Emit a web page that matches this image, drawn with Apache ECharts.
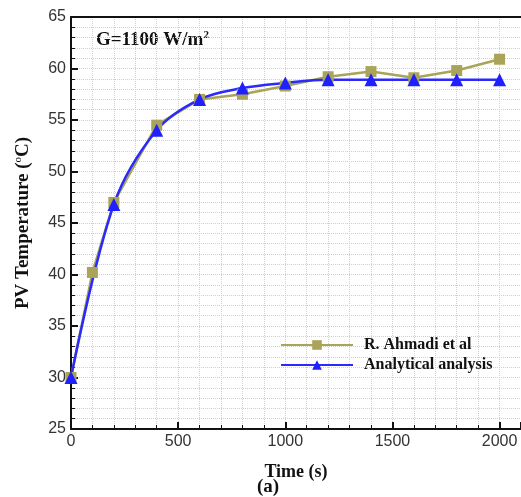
<!DOCTYPE html>
<html><head><meta charset="utf-8">
<script src="https://cdn.jsdelivr.net/npm/echarts@6/dist/echarts.min.js"></script>
<style>html,body{margin:0;padding:0;background:#fff}#c{width:521px;height:497px}</style>
</head><body><div id="c"></div>
<script>
var ahmadiTime = [0, 100, 200, 400, 600, 800, 1000, 1200, 1400, 1600, 1800, 2000];
var ahmadiTemp = [30.0, 40.2, 47.0, 54.5, 57.0, 57.5, 58.3, 59.2, 59.7, 59.1, 59.8, 60.9];
var analyticTime = [0, 200, 400, 600, 800, 1000, 1200, 1400, 1600, 1800, 2000];
var analyticTemp = [30.0, 46.8, 54.0, 57.0, 58.1, 58.6, 58.9, 58.9, 58.9, 58.9, 58.9];
var xTicks = [0, 500, 1000, 1500, 2000];
var yTicks = [25, 30, 35, 40, 45, 50, 55, 60, 65];

function pairs(xs, ys){ return xs.map(function(x,i){ return [x, ys[i]]; }); }

var chart = echarts.init(document.getElementById('c'), null, {renderer:'canvas'});
var serif = '"Liberation Serif","Times New Roman",serif';
var sans = '"Liberation Sans",Arial,sans-serif';
var gridStyle = {color: '#cfcfcf', width: 1, type: 'dotted'};
chart.setOption({
  animation: false,
  backgroundColor: '#fff',
  grid: {left: 71, top: 17, width: 451.5, height: 412, containLabel: false},
  legend: {
    orient: 'vertical', left: 275, top: 332, itemWidth: 72, itemHeight: 12, itemGap: 4,
    textStyle: {fontFamily: serif, fontWeight: 'bold', fontSize: 16, color: '#111', padding: [0,0,0,6]},
    data: ['R. Ahmadi et al', 'Analytical analysis']
  },
  graphic: [
    {type: 'text', left: 96, top: 30, style: {
      text: '{b|G=1100 W/m}{s|2}', rich: {
        b: {fontFamily: serif, fontWeight: 'bold', fontSize: 19, fill: '#111'},
        s: {fontFamily: serif, fontWeight: 'bold', fontSize: 11, fill: '#111', verticalAlign: 'top', padding:[0,0,9,0]}
      }}},
    {type: 'text', left: 257, top: 478, style: {text: '(a)', fontFamily: serif, fontWeight: 'bold', fontSize: 19, fill: '#111'}}
  ],
  xAxis: {
    type: 'value', min: 0, max: 2100, interval: 500,
    name: 'Time (s)', nameLocation: 'middle', nameGap: 34,
    nameTextStyle: {fontFamily: serif, fontWeight: 'bold', fontSize: 18, color: '#111'},
    axisLine: {show: true, onZero: false, lineStyle: {color: '#111', width: 2}},
    axisTick: {inside: true, length: 7, lineStyle: {color: '#111', width: 2}},
    minorTick: {show: true, splitNumber: 5, length: 4, lineStyle: {color: '#111', width: 1}},
    axisLabel: {margin: 5, fontFamily: sans, fontSize: 16, color: '#333', showMaxLabel: false,
      formatter: function(v){ return xTicks.indexOf(v) >= 0 ? String(v) : ''; }},
    splitLine: {show: true, lineStyle: gridStyle},
    minorSplitLine: {show: true, lineStyle: gridStyle}
  },
  yAxis: {
    type: 'value', min: 25, max: 65, interval: 5,
    name: '{t|PV Temperature (}{s|o}{t|C)}', nameLocation: 'middle', nameGap: 38,
    nameTextStyle: {rich: {
      t: {fontFamily: serif, fontWeight: 'bold', fontSize: 19, color: '#111'},
      s: {fontFamily: serif, fontSize: 11, color: '#111', verticalAlign: 'top', padding: [0,0,9,0]}
    }},
    axisLine: {show: true, onZero: false, lineStyle: {color: '#111', width: 2}},
    axisTick: {inside: true, length: 7, lineStyle: {color: '#111', width: 2}},
    minorTick: {show: true, splitNumber: 5, length: 4, lineStyle: {color: '#111', width: 1}},
    axisLabel: {margin: 5, fontFamily: sans, fontSize: 16, color: '#333',
      formatter: function(v){ return yTicks.indexOf(v) >= 0 ? String(v) : ''; }},
    splitLine: {show: true, lineStyle: gridStyle},
    minorSplitLine: {show: true, lineStyle: gridStyle}
  },
  series: [
    {name: 'R. Ahmadi et al', type: 'line', data: pairs(ahmadiTime, ahmadiTemp),
     symbol: 'rect', symbolSize: 11, clip: false,
     itemStyle: {color: '#a9a457'}, lineStyle: {color: '#a9a457', width: 2.5}},
    {name: 'Analytical analysis', type: 'line', data: pairs(analyticTime, analyticTemp),
     symbol: 'triangle', symbolSize: 13, smooth: 0.35, clip: false,
     itemStyle: {color: '#1f1fff'}, lineStyle: {color: '#2a2aff', width: 2.5}}
  ]
});
var p0 = chart.convertToPixel({gridIndex: 0}, [0, 65]);
var p1 = chart.convertToPixel({gridIndex: 0}, [2100, 65]);
chart.setOption({graphic: [
  {type: 'text', left: 96, top: 30, style: {
    text: '{b|G=1100 W/m}{s|2}', rich: {
      b: {fontFamily: serif, fontWeight: 'bold', fontSize: 19, fill: '#111'},
      s: {fontFamily: serif, fontWeight: 'bold', fontSize: 11, fill: '#111', verticalAlign: 'top', padding:[0,0,9,0]}
    }}},
  {type: 'text', left: 257, top: 478, style: {text: '(a)', fontFamily: serif, fontWeight: 'bold', fontSize: 19, fill: '#111'}},
  {type: 'line', z: 100, shape: {x1: p0[0] - 1, y1: p0[1], x2: p1[0], y2: p1[1]},
   style: {stroke: '#111', lineWidth: 2}}
]});
</script></body></html>
